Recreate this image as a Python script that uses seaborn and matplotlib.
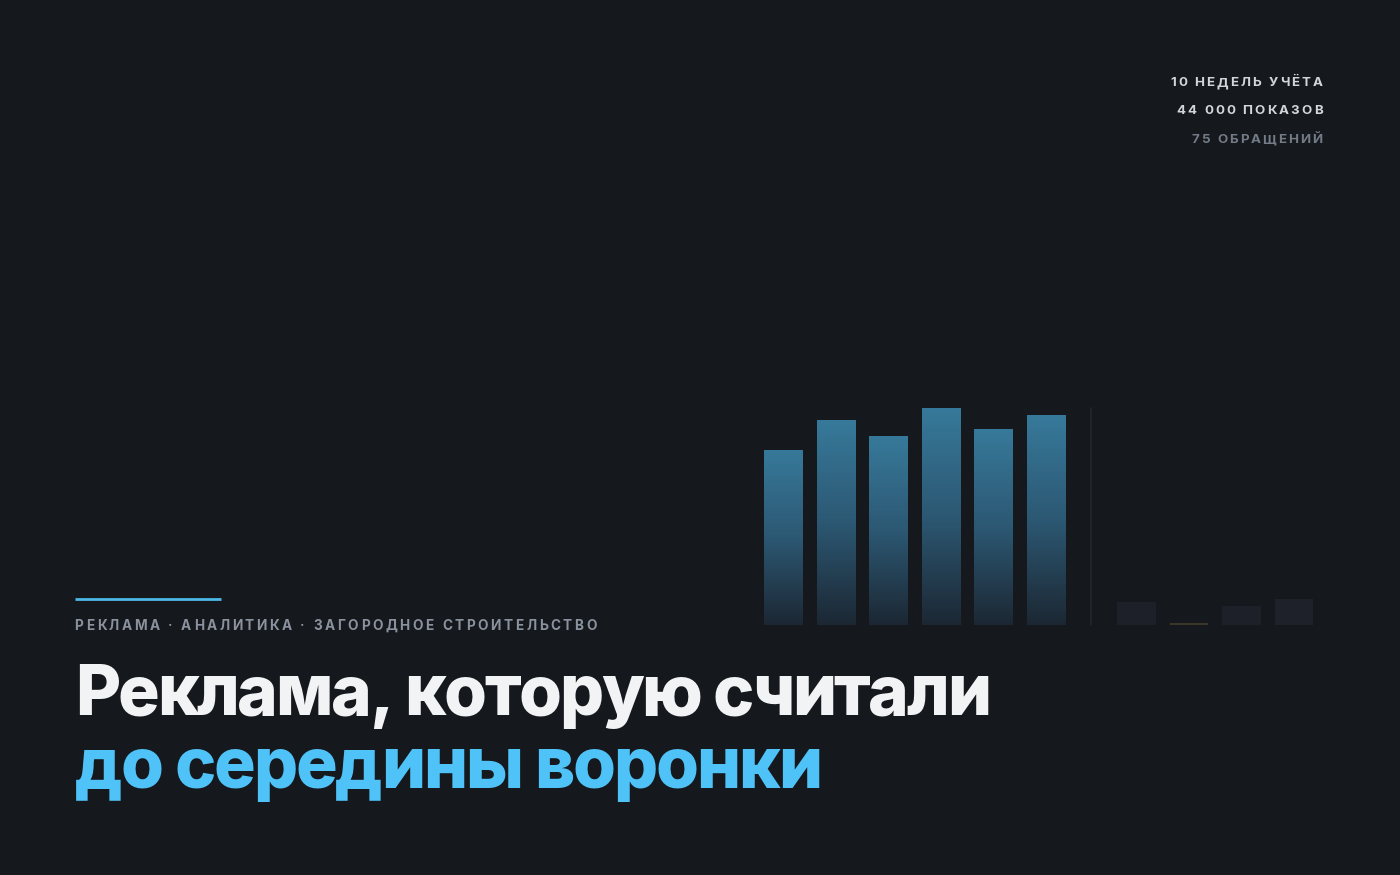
import numpy as np
import pandas as pd
import matplotlib
matplotlib.use("Agg")
import matplotlib.pyplot as plt
from matplotlib.lines import Line2D
from matplotlib.font_manager import FontProperties, fontManager
from matplotlib.colors import LinearSegmentedColormap
import seaborn as sns

# ---------------- data ----------------
weeks_main = ["Н1", "Н2", "Н3", "Н4", "Н5", "Н6"]
impressions_main = [6100, 7150, 6590, 7570, 6830, 7320]
weeks_tail = ["Н7", "Н8", "Н9", "Н10"]
impressions_tail = [800, 70, 660, 910]

stats_lines = ["10 НЕДЕЛЬ УЧЁТА", "44 000 ПОКАЗОВ", "75 ОБРАЩЕНИЙ"]
tagline = "РЕКЛАМА · АНАЛИТИКА · ЗАГОРОДНОЕ СТРОИТЕЛЬСТВО"
title_1 = "Реклама, которую считали"
title_2 = "до середины воронки"

# ---------------- style ----------------
BG = "#15181d"
W, H = 1400, 875
sns.set_theme(style="white")
plt.rcParams["font.family"] = ["Inter", "DejaVu Sans"]

inter_weights = {f.weight for f in fontManager.ttflist if f.name == "Inter"}
HEAVY = 800 if 800 in inter_weights else "heavy"

fig = plt.figure(figsize=(14, 8.75), dpi=100, facecolor=BG)
renderer = fig.canvas.get_renderer()

def fx(px):
    return px / W

def fy(py):
    return 1 - py / H

def spaced_text(s, x_px, y_px, size, color, weight, target_w=None, spacing=0.0, ha="left"):
    fp = FontProperties(family=["Inter", "DejaVu Sans"], size=size, weight=weight)
    widths = []
    for ch in s:
        w, h, d = renderer.get_text_width_height_descent(ch, fp, ismath=False)
        widths.append(w)
    nat = sum(widths)
    if target_w is not None:
        spacing = (target_w - nat) / (len(s) - 1)
    total = nat + spacing * (len(s) - 1)
    x = x_px - total if ha == "right" else x_px
    for ch, w in zip(s, widths):
        fig.text(fx(x), fy(y_px), ch, fontproperties=fp, color=color,
                 ha="left", va="baseline")
        x += w + spacing

# ---------------- bars ----------------
px_per_unit = 217 / 7570.0
ymax = 8000
ax_h = ymax * px_per_unit
pitch = 52.5
bottom = 625

df_main = pd.DataFrame({"week": weeks_main, "value": impressions_main})
df_tail = pd.DataFrame({"week": weeks_tail, "value": impressions_tail})

ax1 = fig.add_axes([fx(783.5 - pitch / 2), fy(bottom), 6 * pitch / W, ax_h / H])
ax2 = fig.add_axes([fx(1136.5 - pitch / 2), fy(bottom), 4 * pitch / W, ax_h / H])

sns.barplot(data=df_main, x="week", y="value", hue="week", legend=False,
            palette=["#1e2b38"] * 6, width=0.74, ax=ax1, saturation=1,
            edgecolor="none", linewidth=0)
sns.barplot(data=df_tail, x="week", y="value", hue="week", legend=False,
            palette=["#1d2029", "#3b3628", "#1d2029", "#1e2129"], width=0.74,
            ax=ax2, saturation=1, edgecolor="none", linewidth=0)

grad = LinearSegmentedColormap.from_list("g", ["#1c2733", "#2c5873", "#37799a"])
gimg = np.linspace(0, 1, 256).reshape(-1, 1)
for p in list(ax1.patches):
    x0, y0 = p.get_x(), p.get_y()
    w, h = p.get_width(), p.get_height()
    im = ax1.imshow(gimg, cmap=grad, origin="lower", aspect="auto",
                    extent=(x0, x0 + w, y0, y0 + h), zorder=p.get_zorder() + 0.1)
    im.set_clip_path(p)

for ax in (ax1, ax2):
    ax.set_facecolor("none")
    ax.set_ylim(0, ymax)
    ax.set_xlim(-0.5, len(ax.get_xticks()) - 0.5)
    ax.set_axis_off()

# divider between the tracked and the tail weeks
fig.add_artist(Line2D([fx(1091), fx(1091)], [fy(625), fy(408)],
                      color="#22262d", lw=1.2))

# ---------------- texts ----------------
stat_colors = ["#d2d6dc", "#d2d6dc", "#737b86"]
stat_widths = [152, 146, 131]
for i, (line, col, tw) in enumerate(zip(stats_lines, stat_colors, stat_widths)):
    spaced_text(line, 1322.5, 86 + i * 28.5, 9.6, col, "bold", target_w=tw, ha="right")

fig.add_artist(Line2D([fx(75), fx(221)], [fy(598.5), fy(598.5)],
                      color="#4cb8e6", lw=2.0, solid_capstyle="butt"))
spaced_text(tagline, 74.5, 630, 9.8, "#8a929d", "bold", target_w=522)

spaced_text(title_1, 75, 715, 50, "#f2f3f5", HEAVY, target_w=916)
spaced_text(title_2, 75, 788, 50, "#4fc3f7", HEAVY, target_w=747)

fig.savefig("out.png", dpi=100, facecolor=BG)
